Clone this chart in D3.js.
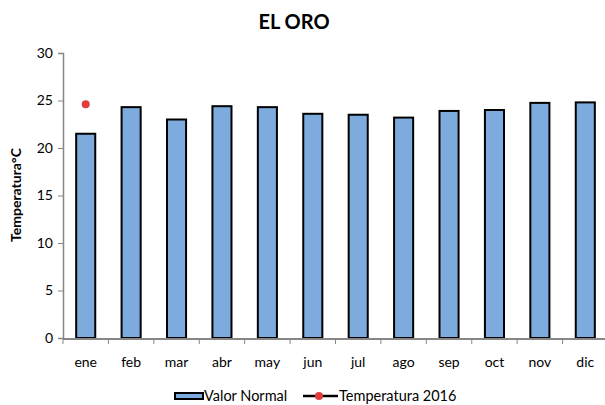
<!DOCTYPE html>
<html>
<head>
<meta charset="utf-8">
<script src="https://cdn.jsdelivr.net/npm/d3@7"></script>
<style>
body{margin:0;background:#fff}
svg{font-family:Lato,"Open Sans",sans-serif}
</style>
</head>
<body>
<div id="chart"></div>
<script>
var meses=["ene","feb","mar","abr","may","jun","jul","ago","sep","oct","nov","dic"]
var valorNormal=[21.5,24.3,23.0,24.4,24.3,23.6,23.5,23.2,23.9,24.0,24.75,24.8]
var temp2016=[24.6,null,null,null,null,null,null,null,null,null,null,null]
var yTicks=[0,5,10,15,20,25,30]

var W=605,H=405
var svg=d3.select("#chart").append("svg").attr("width",W).attr("height",H)

var x=d3.scaleBand().domain(meses).range([63,608]).paddingInner(0.58).paddingOuter(0.29)
var y=d3.scaleLinear().domain([0,30]).range([338,53])

// titulo
svg.append("text").attr("x",294).attr("y",29).attr("text-anchor","middle")
	.attr("font-size",20).attr("font-weight","bold").text("EL ORO")

// eje y
var gy=svg.append("g").attr("transform","translate(63,0)")
	.call(d3.axisLeft(y).tickValues(yTicks).tickSize(5).tickPadding(5))
gy.select(".domain").attr("stroke","#868686").attr("stroke-width",1.5)
gy.selectAll(".tick line").attr("stroke","#868686")
gy.selectAll(".tick text").attr("font-size",14).attr("fill","#000")
	.attr("font-family","Lato,'Open Sans',sans-serif")

svg.append("text").attr("transform","translate(21,195) rotate(-90)")
	.attr("text-anchor","middle").attr("font-size",14).attr("font-weight","bold")
	.text("Temperatura°C")

// barras
svg.selectAll(".bar").data(valorNormal).enter().append("rect")
	.attr("class","bar")
	.attr("x",(d,i)=>x(meses[i]))
	.attr("width",x.bandwidth())
	.attr("y",d=>y(d))
	.attr("height",d=>y(0)-y(d))
	.attr("fill","#7eabdd").attr("stroke","#000").attr("stroke-width",2)

// eje x
var xEdges=d3.scaleLinear().domain([0,12]).range([63,608])
var gx=svg.append("g")
gx.append("line").attr("x1",63).attr("x2",605).attr("y1",y(0)+1).attr("y2",y(0)+1)
	.attr("stroke","#868686").attr("stroke-width",2)
gx.selectAll(".tk").data(d3.range(13)).enter().append("line")
	.attr("x1",d=>xEdges(d)).attr("x2",d=>xEdges(d))
	.attr("y1",y(0)+1).attr("y2",y(0)+6).attr("stroke","#868686")
gx.selectAll(".lbl").data(meses).enter().append("text")
	.attr("x",d=>x(d)+x.bandwidth()/2).attr("y",367)
	.attr("text-anchor","middle").attr("font-size",14).text(d=>d)

// puntos 2016
svg.selectAll(".pt").data(temp2016.map((v,i)=>({m:meses[i],v:v})).filter(d=>d.v!=null))
	.enter().append("circle")
	.attr("cx",d=>x(d.m)+x.bandwidth()/2).attr("cy",d=>y(d.v))
	.attr("r",4).attr("fill","#e03c3c")

// leyenda
var lg=svg.append("g")
lg.append("rect").attr("x",175).attr("y",393).attr("width",28).attr("height",6)
	.attr("fill","#7eabdd").attr("stroke","#000").attr("stroke-width",2)
lg.append("text").attr("x",204).attr("y",401).attr("font-size",14.5).text("Valor Normal")
lg.append("line").attr("x1",303).attr("x2",338).attr("y1",396).attr("y2",396)
	.attr("stroke","#000").attr("stroke-width",2.5)
lg.append("circle").attr("cx",319).attr("cy",396).attr("r",4).attr("fill","#e03c3c")
lg.append("text").attr("x",339).attr("y",401).attr("font-size",14.5).text("Temperatura 2016")
</script>
</body>
</html>
